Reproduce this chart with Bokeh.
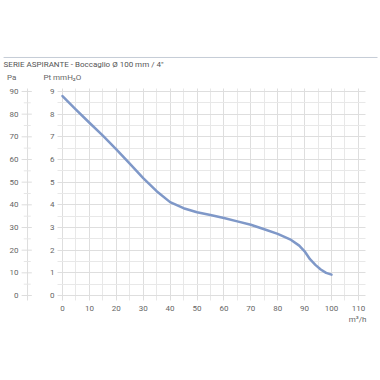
from bokeh.plotting import figure
from bokeh.models import Range1d, Grid, FixedTicker, ColumnDataSource
from bokeh.core.properties import value
from bokeh.embed import file_html
from bokeh.resources import INLINE

# data: airflow (m3/h) vs pressure (mmH2O)
flow = [0, 5, 10, 15, 20, 25, 30, 35, 40, 45, 50, 55, 60, 65, 70, 75, 80, 85, 88, 90, 92, 94, 96, 98, 100]
pt = [8.8, 8.2, 7.62, 7.05, 6.45, 5.82, 5.18, 4.6, 4.12, 3.85, 3.67, 3.55, 3.42, 3.27, 3.12, 2.92, 2.72, 2.45, 2.2, 1.95, 1.6, 1.35, 1.15, 1.0, 0.92]

x_ticks = [0, 10, 20, 30, 40, 50, 60, 70, 80, 90, 100, 110]
x_minor = [5, 15, 25, 35, 45, 55, 65, 75, 85, 95, 105]
pt_ticks = [0, 1, 2, 3, 4, 5, 6, 7, 8, 9]
pt_minor = [0.5, 1.5, 2.5, 3.5, 4.5, 5.5, 6.5, 7.5, 8.5]
pa_ticks = [0, 10, 20, 30, 40, 50, 60, 70, 80, 90]
pa_minor = [5, 15, 25, 35, 45, 55, 65, 75, 85]

title_text = "SERIE ASPIRANTE  - Boccaglio \u00d8 100 mm / 4\""
pa_title = "Pa"
pt_title = "Pt mmH\u2082O"
x_unit = "m\u00b3/h"

FONT = value("Roboto")
GRAY = "#666666"

X0, X1 = -23.05, 117.47
Y0, Y1 = -3.661, 13.013
p = figure(width=378, height=378, output_backend="svg", toolbar_location=None,
           x_axis_type=None, y_axis_type=None,
           x_range=Range1d(X0, X1), y_range=Range1d(Y0, Y1),
           min_border=0, outline_line_color=None)
p.extra_y_ranges = {"pa": Range1d(Y0 * 10, Y1 * 10)}

# grids
gx = Grid(dimension=0, ticker=FixedTicker(ticks=x_ticks, minor_ticks=x_minor),
          grid_line_color="#dedede", minor_grid_line_color="#e8e8e8",
          cross_bounds=(-0.22, 9.13))
gy = Grid(dimension=1, ticker=FixedTicker(ticks=pt_ticks, minor_ticks=pt_minor),
          grid_line_color="#dedede", minor_grid_line_color="#e8e8e8",
          cross_bounds=(-1.9, 112.6))
p.add_layout(gx)
p.add_layout(gy)

# top rule
p.segment(x0=[-21.9], y0=[10.5], x1=[117.1], y1=[10.5], line_color="#c5ccd6", line_width=1)

# Pa axis (secondary scale)
p.segment(x0=[-13.0], y0=[-2.2], x1=[-13.0], y1=[91.3], y_range_name="pa",
          line_color="#dddddd", line_width=1)
p.segment(x0=[-15.2] * len(pa_ticks), y0=pa_ticks, x1=[-11.4] * len(pa_ticks), y1=pa_ticks,
          y_range_name="pa", line_color="#dddddd", line_width=1)
p.segment(x0=[-14.4] * len(pa_minor), y0=pa_minor, x1=[-11.8] * len(pa_minor), y1=pa_minor,
          y_range_name="pa", line_color="#e6e6e6", line_width=1)
p.text(x=[-16.4] * len(pa_ticks), y=pa_ticks, text=[str(v) for v in pa_ticks],
       y_range_name="pa", text_font=FONT, text_font_size="8px", text_color=GRAY,
       text_align="right", text_baseline="middle")

# Pt tick labels
p.text(x=[-3.0] * len(pt_ticks), y=pt_ticks, text=[str(v) for v in pt_ticks],
       text_font=FONT, text_font_size="8px", text_color=GRAY,
       text_align="right", text_baseline="middle")

# x tick labels
p.text(x=x_ticks, y=[-0.57] * len(x_ticks), text=[str(v) for v in x_ticks],
       text_font=FONT, text_font_size="8px", text_color=GRAY,
       text_align="center", text_baseline="middle")
p.text(x=[113.0], y=[-1.06], text=[x_unit],
       text_font=FONT, text_font_size="8px", text_color=GRAY,
       text_align="right", text_baseline="middle")

# headers
p.text(x=[-20.6], y=[9.62], text=[pa_title], text_font=FONT, text_font_size="8px",
       text_color=GRAY, text_align="left", text_baseline="middle")
p.text(x=[-7.1], y=[9.62], text=[pt_title], text_font=FONT, text_font_size="8px",
       text_color=GRAY, text_align="left", text_baseline="middle")
p.text(x=[-21.9], y=[10.19], text=[title_text], text_font=FONT, text_font_size="8px",
       text_color="#555555", text_align="left", text_baseline="middle")

# curve
src = ColumnDataSource(dict(x=flow, y=pt))
p.line("x", "y", source=src, line_color="#7f98c8", line_width=2.5,
       line_join="round", line_cap="round")

open("out.html", "w").write(file_html(p, INLINE))
